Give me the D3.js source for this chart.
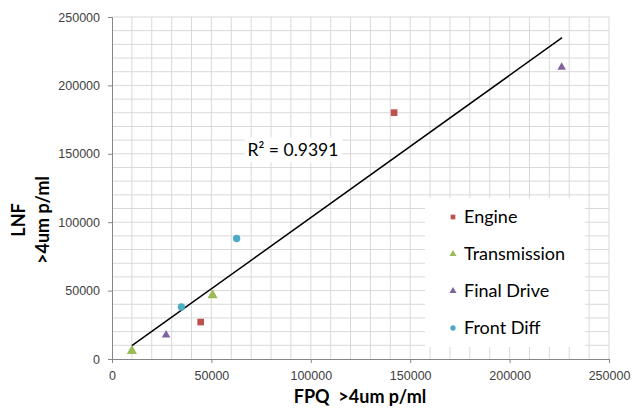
<!DOCTYPE html>
<html>
<head>
<meta charset="utf-8">
<script src="https://cdn.jsdelivr.net/npm/d3@7"></script>
<style>
  body { margin: 0; background: #fff; }
  svg { font-family: Lato, "Open Sans", sans-serif; }
</style>
</head>
<body>
<svg id="chart"></svg>
<script>
// series values (FPQ on x, LNF on y)
const seriesNames = ['Engine', 'Transmission', 'Final Drive', 'Front Diff'];
const engineX = [44600, 141900];
const engineY = [27000, 180100];
const transmissionX = [10000, 50600];
const transmissionY = [5800, 46600];
const finalDriveX = [27200, 226200];
const finalDriveY = [17600, 213300];
const frontDiffX = [34900, 62700];
const frontDiffY = [38000, 88100];

// linear trendline end points
const trendX = [10000, 226400];
const trendY = [9700, 234900];
const r2Label = 'R\u00B2 = 0.9391';

const xTicks = [0, 50000, 100000, 150000, 200000, 250000];
const yTicks = [0, 50000, 100000, 150000, 200000, 250000];

const width = 633, height = 409;
const margin = { top: 17, right: 24, bottom: 50, left: 112 };
const innerW = width - margin.left - margin.right;
const innerH = height - margin.top - margin.bottom;

const svg = d3.select('#chart')
  .attr('width', width)
  .attr('height', height);

const g = svg.append('g')
  .attr('transform', `translate(${margin.left},${margin.top})`);

const x = d3.scaleLinear().domain([0, 250000]).range([0, innerW]);
const y = d3.scaleLinear().domain([0, 250000]).range([innerH, 0]);

// grid every 10000
const minor = d3.range(10000, 250001, 10000);
g.append('g').selectAll('line.vx')
  .data(minor)
  .enter().append('line')
  .attr('x1', d => x(d)).attr('x2', d => x(d))
  .attr('y1', 0).attr('y2', innerH)
  .attr('stroke', '#d9d9d9').attr('stroke-width', 1);
g.append('g').selectAll('line.hy')
  .data(minor)
  .enter().append('line')
  .attr('y1', d => y(d)).attr('y2', d => y(d))
  .attr('x1', 0).attr('x2', innerW)
  .attr('stroke', '#d9d9d9').attr('stroke-width', 1);

// axes
const xAxis = g.append('g')
  .attr('transform', `translate(0,${innerH})`)
  .call(d3.axisBottom(x).tickValues(xTicks).tickSize(4).tickPadding(8).tickFormat(d3.format('d')));
const yAxis = g.append('g')
  .call(d3.axisLeft(y).tickValues(yTicks).tickSize(4).tickPadding(8).tickFormat(d3.format('d')));
[xAxis, yAxis].forEach(a => {
  a.select('.domain').attr('stroke', '#868686');
  a.selectAll('.tick line').attr('stroke', '#868686');
  a.selectAll('.tick text').attr('fill', '#404040').style('font-size', '12.5px');
});

// R² label with white box
const r2 = g.append('g')
  .attr('transform', `translate(${x(68200)},${y(159000)})`);
r2.append('rect')
  .attr('x', -3).attr('y', -4)
  .attr('width', 98).attr('height', 25)
  .attr('fill', '#fff');
r2.append('text')
  .attr('x', 0).attr('y', 15)
  .style('font-size', '17.5px')
  .attr('fill', '#000')
  .text(r2Label);

// trendline
g.append('line')
  .attr('x1', x(trendX[0])).attr('y1', y(trendY[0]))
  .attr('x2', x(trendX[1])).attr('y2', y(trendY[1]))
  .attr('stroke', '#000').attr('stroke-width', 1.5);

// points
const series = [
  { name: seriesNames[0], xs: engineX, ys: engineY, color: '#c0504d', shape: d3.symbolSquare, size: 44 },
  { name: seriesNames[1], xs: transmissionX, ys: transmissionY, color: '#9bbb59', shape: d3.symbolTriangle, size: 46 },
  { name: seriesNames[2], xs: finalDriveX, ys: finalDriveY, color: '#8064a2', shape: d3.symbolTriangle, size: 32 },
  { name: seriesNames[3], xs: frontDiffX, ys: frontDiffY, color: '#4bacc6', shape: d3.symbolCircle, size: 42 }
];

series.forEach(s => {
  g.selectAll(null)
    .data(s.xs.map((v, i) => [v, s.ys[i]]))
    .enter().append('path')
    .attr('d', d3.symbol().type(s.shape).size(s.size))
    .attr('transform', d => `translate(${x(d[0])},${y(d[1])})`)
    .attr('fill', s.color);
});

// legend
const legend = svg.append('g').attr('transform', 'translate(425,198)');
legend.append('rect')
  .attr('width', 160).attr('height', 149)
  .attr('fill', '#fff');
series.forEach((s, i) => {
  const row = legend.append('g').attr('transform', `translate(28,${19 + i * 37})`);
  row.append('path')
    .attr('d', d3.symbol().type(s.shape).size(22))
    .attr('fill', s.color);
  row.append('text')
    .attr('x', 11).attr('y', 6)
    .style('font-size', '18px')
    .attr('fill', '#000')
    .text(s.name);
});

// axis titles
svg.append('text')
  .attr('x', 360)
  .attr('y', 403)
  .attr('text-anchor', 'middle')
  .style('font-size', '18px')
  .style('font-weight', 'bold')
  .attr('fill', '#000')
  .attr('xml:space', 'preserve')
  .text('FPQ  >4um p/ml');

const yTitle = svg.append('text')
  .attr('transform', 'translate(25,220) rotate(-90)')
  .attr('text-anchor', 'middle')
  .style('font-size', '18px')
  .style('font-weight', 'bold')
  .attr('fill', '#000');
yTitle.append('tspan').attr('x', 0).attr('dy', 0).text('LNF');
yTitle.append('tspan').attr('x', 0).attr('dy', 24).text('>4um p/ml');
</script>
</body>
</html>
